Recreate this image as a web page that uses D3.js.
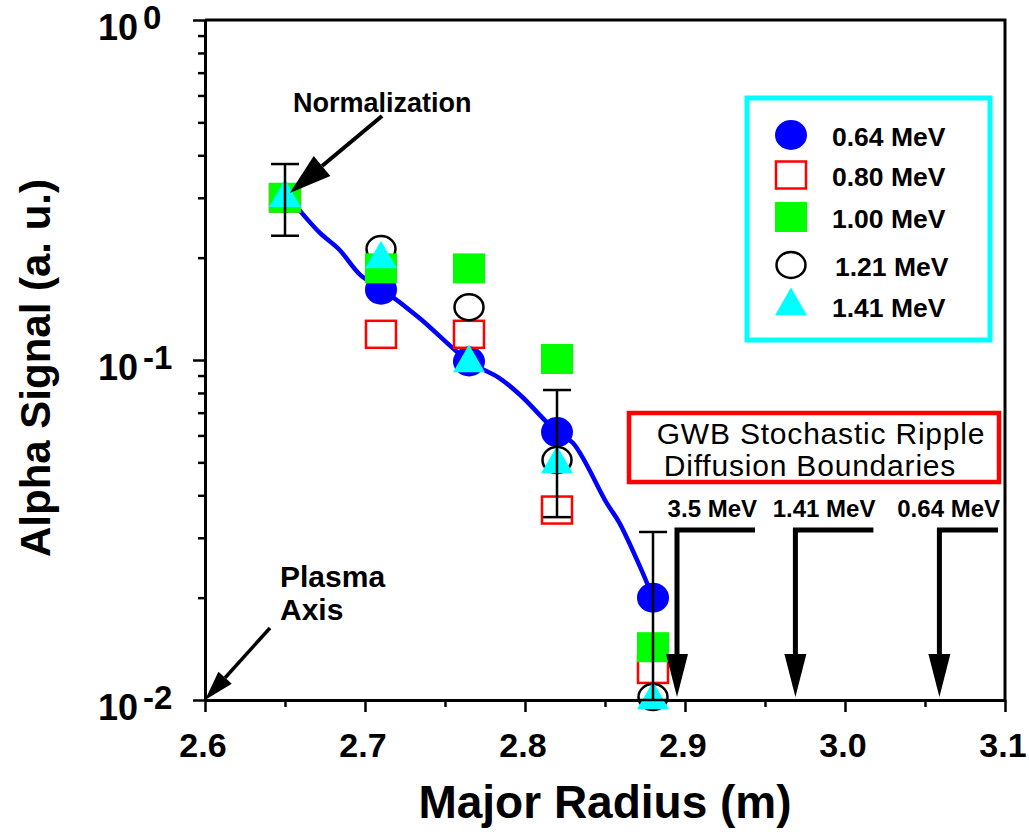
<!DOCTYPE html>
<html>
<head>
<meta charset="utf-8">
<script src="https://cdn.jsdelivr.net/npm/d3@7"></script>
<style>
  body { margin: 0; background: #fff; }
  svg { display: block; font-family: "Liberation Sans", Arial, sans-serif; }
</style>
</head>
<body>
<div id="chart"></div>
<script>
// Alpha signal vs major radius, log scale
const radius = [2.65, 2.71, 2.765, 2.82, 2.88];
const sig064 = [0.30, 0.161, 0.099, 0.0614, 0.0200];
const sig080 = [0.30, 0.119, 0.119, 0.0362, 0.0123];
const sig100 = [0.30, 0.186, 0.186, 0.1007, 0.0143];
const sig121 = [0.30, 0.212, 0.143, 0.0508, 0.0102];
const sig141 = [0.30, 0.198, 0.098, 0.0494, 0.0100];

// smooth fit line through 0.64 MeV data
const fitR   = [2.659, 2.672, 2.684, 2.697, 2.711, 2.734, 2.765, 2.784, 2.797, 2.82, 2.83, 2.851, 2.859, 2.872, 2.878];
const fitSig = [0.276, 0.236, 0.211, 0.178, 0.161, 0.133, 0.099, 0.0885, 0.0789, 0.0614, 0.057, 0.038, 0.0332, 0.0246, 0.0211];

// error bars
const errR  = [2.65, 2.82, 2.88];
const errLo = [0.232, 0.0345, 0.0100];
const errHi = [0.377, 0.0816, 0.0312];

// ripple diffusion boundaries
const boundR = [2.895, 2.969, 3.059];
const boundLabels = ["3.5 MeV", "1.41 MeV", "0.64 MeV"];

const xTicks = [2.6, 2.7, 2.8, 2.9, 3.0, 3.1];
const xMinor = [2.65, 2.75, 2.85, 2.95, 3.05];
const yTicks = [1, 0.1, 0.01];
const yExp = ["0", "-1", "-2"];
const legendLabels = ["0.64 MeV", "0.80 MeV", "1.00 MeV", "1.21 MeV", "1.41 MeV"];

const width = 1029, height = 835;
const svg = d3.select("#chart").append("svg")
    .attr("width", width)
    .attr("height", height);

const x = d3.scaleLinear().domain([2.6, 3.1]).range([205, 1005]);
const y = d3.scaleLog().domain([0.01, 1]).range([700, 20]);

// frame (top and right)
svg.append("path")
    .attr("d", `M${x(2.6)},${y(1)}H${x(3.1)}V${y(0.01)}`)
    .attr("fill", "none").attr("stroke", "#000").attr("stroke-width", 3);

// axes
const yMinor = [];
[0.01, 0.1].forEach(d => { for (let k = 2; k <= 9; k++) yMinor.push(d * k); });

const gy = svg.append("g").attr("transform", `translate(${x(2.6)},0)`)
    .call(d3.axisLeft(y).tickValues(yTicks).tickSize(12).tickSizeOuter(0).tickFormat(""));
const gyMinor = svg.append("g").attr("transform", `translate(${x(2.6)},0)`)
    .call(d3.axisLeft(y).tickValues(yMinor).tickSize(7).tickSizeOuter(0).tickFormat(""));
const gx = svg.append("g").attr("transform", `translate(0,${y(0.01)})`)
    .call(d3.axisBottom(x).tickValues(xTicks).tickSize(12).tickSizeOuter(0).tickFormat(""));
const gxMinor = svg.append("g").attr("transform", `translate(0,${y(0.01)})`)
    .call(d3.axisBottom(x).tickValues(xMinor).tickSize(7).tickSizeOuter(0).tickFormat(""));
[gy, gyMinor, gx, gxMinor].forEach(g => {
    g.selectAll("path.domain").attr("stroke-width", 3);
    g.selectAll(".tick line").attr("stroke-width", 2.5);
});

// x tick labels
svg.append("g").selectAll("text")
    .data(xTicks).join("text")
    .attr("x", d => x(d) - 2)
    .attr("y", 757)
    .attr("text-anchor", "middle")
    .attr("font-size", 34).attr("font-weight", "bold")
    .text(d => d.toFixed(1));

// y tick labels with superscript exponents
const yl = svg.append("g").selectAll("text")
    .data(yTicks).join("text")
    .attr("x", 98)
    .attr("y", d => y(d) + 20)
    .attr("font-size", 36).attr("font-weight", "bold");
yl.append("tspan").text("10");
yl.append("tspan").attr("dx", 5).attr("dy", -11).attr("font-size", 33).text((d, i) => yExp[i]);

// axis titles
svg.append("text")
    .attr("x", x(2.85)).attr("y", 818)
    .attr("text-anchor", "middle")
    .attr("font-size", 46).attr("font-weight", "bold")
    .text("Major Radius (m)");
svg.append("text")
    .attr("transform", `translate(50,368) rotate(-90)`)
    .attr("text-anchor", "middle")
    .attr("font-size", 42).attr("font-weight", "bold")
    .text("Alpha Signal (a. u.)");

// fit line
svg.append("path")
    .datum(fitR.map((r, i) => [r, fitSig[i]]))
    .attr("fill", "none").attr("stroke", "#0000ff").attr("stroke-width", 4.5)
    .attr("d", d3.line().x(d => x(d[0])).y(d => y(d[1])).curve(d3.curveCatmullRom));

// marker drawers
const drawers = {
    circleFilled: (g, cx, cy) => g.append("ellipse").attr("cx", cx).attr("cy", cy)
        .attr("rx", 16).attr("ry", 15).attr("fill", "#0000ff"),
    squareOpen: (g, cx, cy) => g.append("rect").attr("x", cx - 15).attr("y", cy - 13.5)
        .attr("width", 30).attr("height", 27).attr("fill", "none")
        .attr("stroke", "#ff0000").attr("stroke-width", 2.5),
    squareFilled: (g, cx, cy) => g.append("rect").attr("x", cx - 16).attr("y", cy - 15)
        .attr("width", 32).attr("height", 30).attr("fill", "#00ff00"),
    circleOpen: (g, cx, cy) => g.append("ellipse").attr("cx", cx).attr("cy", cy)
        .attr("rx", 14.5).attr("ry", 13).attr("fill", "none")
        .attr("stroke", "#000").attr("stroke-width", 2.5),
    triangle: (g, cx, cy) => g.append("path")
        .attr("transform", `translate(${cx},${cy})`)
        .attr("d", d3.symbol().type(d3.symbolTriangle).size(440)())
        .attr("fill", "#00ffff")
};

const series = [
    { vals: sig064, shape: "circleFilled", label: legendLabels[0], ly: 135 },
    { vals: sig080, shape: "squareOpen", label: legendLabels[1], ly: 175 },
    { vals: sig100, shape: "squareFilled", label: legendLabels[2], ly: 217 },
    { vals: sig121, shape: "circleOpen", label: legendLabels[3], ly: 265 },
    { vals: sig141, shape: "triangle", label: legendLabels[4], ly: 306 }
];
// draw order: blue, red, black, green, cyan
const order = [0, 1, 3, 2, 4];
const marks = svg.append("g");
order.forEach(si => {
    const s = series[si];
    radius.forEach((r, i) => drawers[s.shape](marks, x(r), y(s.vals[i])));
});

// error bars
const eb = svg.append("g").attr("stroke", "#000").attr("stroke-width", 2.5);
errR.forEach((r, i) => {
    const cx = x(r);
    eb.append("line").attr("x1", cx).attr("x2", cx).attr("y1", y(errLo[i])).attr("y2", y(errHi[i]));
    eb.append("line").attr("x1", cx - 14).attr("x2", cx + 14).attr("y1", y(errHi[i])).attr("y2", y(errHi[i]));
    eb.append("line").attr("x1", cx - 14).attr("x2", cx + 14).attr("y1", y(errLo[i])).attr("y2", y(errLo[i]));
});

// legend
svg.append("rect")
    .attr("x", 747).attr("y", 98).attr("width", 243).attr("height", 242)
    .attr("fill", "none").attr("stroke", "#00ffff").attr("stroke-width", 5);
series.forEach((s, i) => {
    drawers[s.shape](svg, 791, s.ly);
    svg.append("text")
        .attr("x", i === 3 ? 835 : 832).attr("y", s.ly + 11)
        .attr("font-size", 26.5).attr("font-weight", "bold")
        .text(s.label);
});

// arrow helper
function arrow(x1, y1, x2, y2, len, w, sw) {
    const a = Math.atan2(y2 - y1, x2 - x1);
    const bx = x2 - len * Math.cos(a), by = y2 - len * Math.sin(a);
    const px = -Math.sin(a) * w / 2, py = Math.cos(a) * w / 2;
    svg.append("line").attr("x1", x1).attr("y1", y1).attr("x2", bx).attr("y2", by)
        .attr("stroke", "#000").attr("stroke-width", sw);
    svg.append("path")
        .attr("d", `M${x2},${y2}L${bx + px},${by + py}L${bx - px},${by - py}Z`)
        .attr("fill", "#000");
}

// Normalization annotation
svg.append("text").attr("x", 293).attr("y", 112)
    .attr("font-size", 27).attr("font-weight", "bold").text("Normalization");
arrow(382, 116, x(2.653), y(0.31), 42, 26, 4);

// Plasma axis annotation
svg.append("text").attr("x", 280).attr("y", 587)
    .attr("font-size", 30).attr("font-weight", "bold").text("Plasma");
svg.append("text").attr("x", 280).attr("y", 620)
    .attr("font-size", 30).attr("font-weight", "bold").text("Axis");
arrow(270, 628, x(2.6), y(0.01), 30, 18, 3.5);

// GWB box
svg.append("rect")
    .attr("x", 629).attr("y", 413).attr("width", 370).attr("height", 69)
    .attr("fill", "none").attr("stroke", "#ff0000").attr("stroke-width", 4.5);
svg.append("text").attr("x", 821).attr("y", 444).attr("text-anchor", "middle")
    .attr("font-size", 30).attr("letter-spacing", 0.8).text("GWB Stochastic Ripple");
svg.append("text").attr("x", 810).attr("y", 476).attr("text-anchor", "middle")
    .attr("font-size", 30).attr("letter-spacing", 0.8).text("Diffusion Boundaries");

// boundary arrows
boundR.forEach((r, i) => {
    const xv = x(r);
    const segEnd = Math.min(xv + 78, 998);
    const topY = 530;
    svg.append("path")
        .attr("d", `M${segEnd},${topY}H${xv}V${y(0.01) - 42}`)
        .attr("fill", "none").attr("stroke", "#000").attr("stroke-width", 5);
    svg.append("path")
        .attr("d", `M${xv},${y(0.01) - 3}L${xv - 11},${y(0.01) - 46}L${xv + 11},${y(0.01) - 46}Z`)
        .attr("fill", "#000");
    svg.append("text").attr("x", segEnd + 2).attr("y", 517).attr("text-anchor", "end")
        .attr("font-size", 24).attr("font-weight", "bold").text(boundLabels[i]);
});
</script>
</body>
</html>
